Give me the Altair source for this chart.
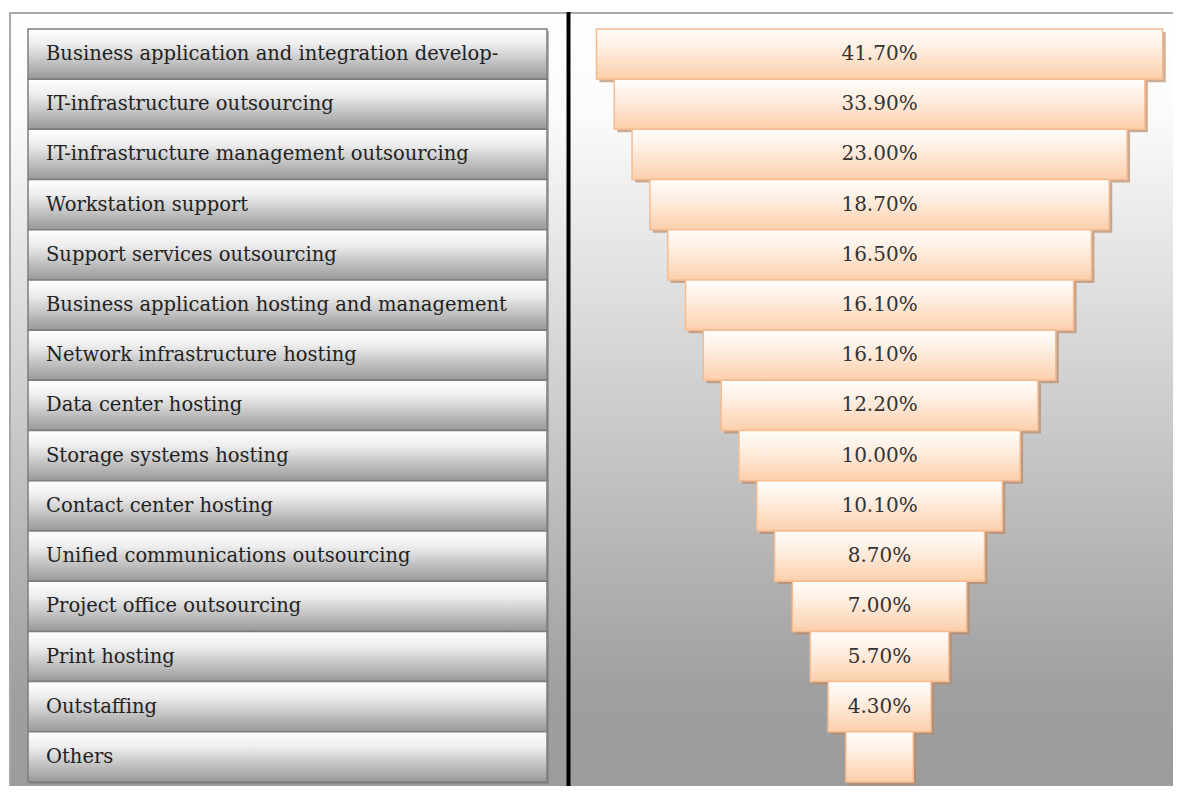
import altair as alt
import pandas as pd

categories = [
    "Business application and integration develop-",
    "IT-infrastructure outsourcing",
    "IT-infrastructure management outsourcing",
    "Workstation support",
    "Support services outsourcing",
    "Business application hosting and management",
    "Network infrastructure hosting",
    "Data center hosting",
    "Storage systems hosting",
    "Contact center hosting",
    "Unified communications outsourcing",
    "Project office outsourcing",
    "Print hosting",
    "Outstaffing",
    "Others",
]
shares = [41.7, 33.9, 23.0, 18.7, 16.5, 16.1, 16.1, 12.2, 10.0, 10.1, 8.7, 7.0, 5.7, 4.3, None]

df = pd.DataFrame({"category": categories, "share": shares, "rank": list(range(len(categories)))})
n = len(categories)

W, H = 1166, 778

yscale = alt.Scale(domain=[-0.337, 15.079], reverse=True, nice=False, zero=False)
xscale = alt.Scale(domain=[-24.43, 8.235], nice=False, zero=False)

base = alt.Chart(df).transform_calculate(
    top="datum.rank",
    bottom="datum.rank + 1",
    mid="datum.rank + 0.5",
    lo=f"-({n + 0.89} - datum.rank) / 2",
    hi=f"({n + 0.89} - datum.rank) / 2",
    zero="0",
    label="isValid(datum.share) ? format(datum.share, '.2f') + '%' : ''",
)

one = pd.DataFrame({"k": [0]})

bg = alt.Chart(one).mark_rect(
    fill={
        "gradient": "linear", "x1": 0, "y1": 0, "x2": 0, "y2": 1,
        "stops": [
            {"offset": 0, "color": "#ffffff"},
            {"offset": 0.13, "color": "#fbfbfb"},
            {"offset": 0.88, "color": "#9f9f9f"},
            {"offset": 1, "color": "#9c9c9c"},
        ],
    },
).encode(x=alt.value(0), x2=alt.value("width"), y=alt.value(0), y2=alt.value("height"))

frame_top = alt.Chart(one).mark_rule(color="#a8a8a8", strokeWidth=2).encode(
    x=alt.value(0), x2=alt.value("width"), y=alt.value(1)
)
frame_left = alt.Chart(one).mark_rule(color="#a8a8a8", strokeWidth=2).encode(
    x=alt.value(1), y=alt.value(0), y2=alt.value("height")
)

cell_shadow = base.mark_rect(
    color="#7a7a7a", opacity=0.55, xOffset=2, x2Offset=2, yOffset=2, y2Offset=2
).encode(
    x=alt.value(19), x2=alt.value(538),
    y=alt.Y("top:Q", scale=yscale, axis=None), y2="bottom:Q",
)

cells = base.mark_rect(
    fill={
        "gradient": "linear", "x1": 0, "y1": 0, "x2": 0, "y2": 1,
        "stops": [
            {"offset": 0, "color": "#ffffff"},
            {"offset": 0.3, "color": "#eeeeee"},
            {"offset": 1, "color": "#989898"},
        ],
    },
    stroke="#7d7d7d",
    strokeWidth=1.5,
).encode(
    x=alt.value(19), x2=alt.value(538),
    y=alt.Y("top:Q", scale=yscale, axis=None), y2="bottom:Q",
)

cell_text = base.mark_text(
    align="left", baseline="middle", font="DejaVu Serif", fontSize=19.5, color="#222222"
).encode(
    x=alt.value(37),
    y=alt.Y("mid:Q", scale=yscale, axis=None),
    text="category:N",
)

divider = alt.Chart(one).mark_rule(color="black", strokeWidth=4).encode(
    x=alt.value(559.5), y=alt.value(0), y2=alt.value("height")
)

bar_shadow = base.mark_rect(
    color="#b88a68", opacity=0.7, xOffset=3, x2Offset=3, yOffset=3, y2Offset=3
).encode(
    x=alt.X("lo:Q", scale=xscale, axis=None), x2="hi:Q",
    y=alt.Y("top:Q", scale=yscale, axis=None), y2="bottom:Q",
)

bars = base.mark_rect(
    fill={
        "gradient": "linear", "x1": 0, "y1": 0, "x2": 0, "y2": 1,
        "stops": [
            {"offset": 0, "color": "#fffdfb"},
            {"offset": 0.35, "color": "#fff0e4"},
            {"offset": 1, "color": "#fccfab"},
        ],
    },
    stroke="#f5bc92",
    strokeWidth=1.5,
).encode(
    x=alt.X("lo:Q", scale=xscale, axis=None), x2="hi:Q",
    y=alt.Y("top:Q", scale=yscale, axis=None), y2="bottom:Q",
)

bar_text = base.mark_text(
    align="center", baseline="middle", font="DejaVu Serif", fontSize=20, color="#333333"
).encode(
    x=alt.X("zero:Q", scale=xscale, axis=None),
    y=alt.Y("mid:Q", scale=yscale, axis=None),
    text="label:N",
)

chart = alt.layer(
    bg, frame_top, frame_left, cell_shadow, cells, cell_text, divider, bar_shadow, bars, bar_text
).properties(
    width=W,
    height=H + 2,
    padding={"left": 0, "top": 2, "right": 0, "bottom": 0},
    autosize=alt.AutoSizeParams(type="fit", contains="padding"),
).configure_view(stroke=None)

chart.save("out.html", embed_options={"renderer": "svg", "actions": False})
